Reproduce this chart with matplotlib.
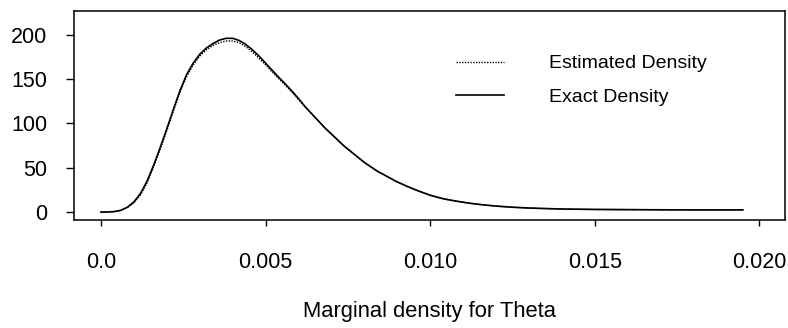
"""
Marginal density for Theta: estimated vs exact density curves.
"""
import matplotlib
matplotlib.use("Agg")
import matplotlib.pyplot as plt

plt.rcParams["font.family"] = ["Liberation Sans", "DejaVu Sans"]

# values
theta = [0.0, 0.0002, 0.0004, 0.0006, 0.0008, 0.0010, 0.0012, 0.0014, 0.0016, 0.0018,
         0.0020, 0.0022, 0.0024, 0.0026, 0.0028, 0.0030, 0.0032, 0.0034, 0.0036, 0.0038,
         0.0040, 0.0042, 0.0044, 0.0046, 0.0048, 0.0050, 0.0052, 0.0054, 0.0056, 0.0058,
         0.0060, 0.0062, 0.0064, 0.0066, 0.0068, 0.0070, 0.0072, 0.0074, 0.0076, 0.0078,
         0.0080, 0.0082, 0.0084, 0.0086, 0.0088, 0.0090, 0.0093, 0.0096, 0.0100, 0.0104,
         0.0108, 0.0112, 0.0116, 0.0120, 0.0125, 0.0130, 0.0135, 0.0140, 0.0150, 0.0160,
         0.0170, 0.0180, 0.0195]
exact_density = [0.0, 0.1, 0.6, 2.0, 5.5, 11.5, 21.0, 35.0, 53.0, 73.0,
                 94.0, 116.0, 137.0, 155.0, 168.0, 178.0, 185.0, 190.0, 194.0, 196.0,
                 196.0, 193.5, 189.0, 183.0, 176.0, 168.0, 160.0, 152.0, 144.5, 136.5,
                 128.0, 119.0, 111.0, 103.0, 95.0, 88.0, 81.0, 74.0, 68.0, 62.0,
                 56.0, 51.0, 46.0, 42.0, 38.0, 34.0, 29.0, 24.5, 19.0, 15.0,
                 12.3, 10.0, 8.2, 6.8, 5.5, 4.6, 4.0, 3.5, 3.0, 2.8,
                 2.6, 2.5, 2.5]
estimated_density = [0.0, 0.1, 0.5, 1.7, 5.0, 10.5, 19.5, 33.0, 51.0, 71.0,
                     92.0, 114.0, 135.0, 153.0, 166.0, 176.0, 183.0, 188.0, 191.0, 193.0,
                     193.0, 191.0, 186.5, 180.5, 173.5, 166.0, 158.0, 150.5, 143.0, 135.5,
                     127.0, 118.5, 110.5, 103.0, 95.0, 88.0, 81.0, 74.0, 68.0, 62.0,
                     56.0, 51.0, 46.0, 42.0, 38.0, 34.0, 29.0, 24.5, 19.0, 15.0,
                     12.3, 10.0, 8.2, 6.8, 5.5, 4.6, 4.0, 3.5, 3.0, 2.8,
                     2.6, 2.5, 2.5]

x_ticks = [0.0, 0.005, 0.010, 0.015, 0.020]
x_tick_labels = ["0.0", "0.005", "0.010", "0.015", "0.020"]
y_ticks = [0, 50, 100, 150, 200]

fig = plt.figure(figsize=(7.88, 3.28), dpi=100)
ax = fig.add_axes([0.0939, 0.329, 0.902, 0.638])

ax.plot(theta, estimated_density, color="black", lw=1.0, linestyle=(0, (1, 1)),
        label="Estimated Density")
ax.plot(theta, exact_density, color="black", lw=1.2, label="Exact Density")

ax.set_xlim(-0.00082, 0.02077)
ax.set_ylim(-9, 227)
ax.set_xticks(x_ticks)
ax.set_xticklabels(x_tick_labels)
ax.set_yticks(y_ticks)

ax.tick_params(axis="x", direction="out", length=4, width=1, pad=19, labelsize=15.5)
ax.tick_params(axis="y", direction="out", length=6, width=1, pad=13, labelsize=15.5)
for sp in ax.spines.values():
    sp.set_linewidth(1.1)

ax.set_xlabel("Marginal density for Theta", fontsize=15.8, labelpad=20)

ax.legend(loc="upper left", bbox_to_anchor=(0.537, 0.79), frameon=False,
          fontsize=14, handlelength=2.5, handletextpad=2.3, labelspacing=0.8,
          borderpad=0, borderaxespad=0)

fig.savefig("out.png", dpi=100)
